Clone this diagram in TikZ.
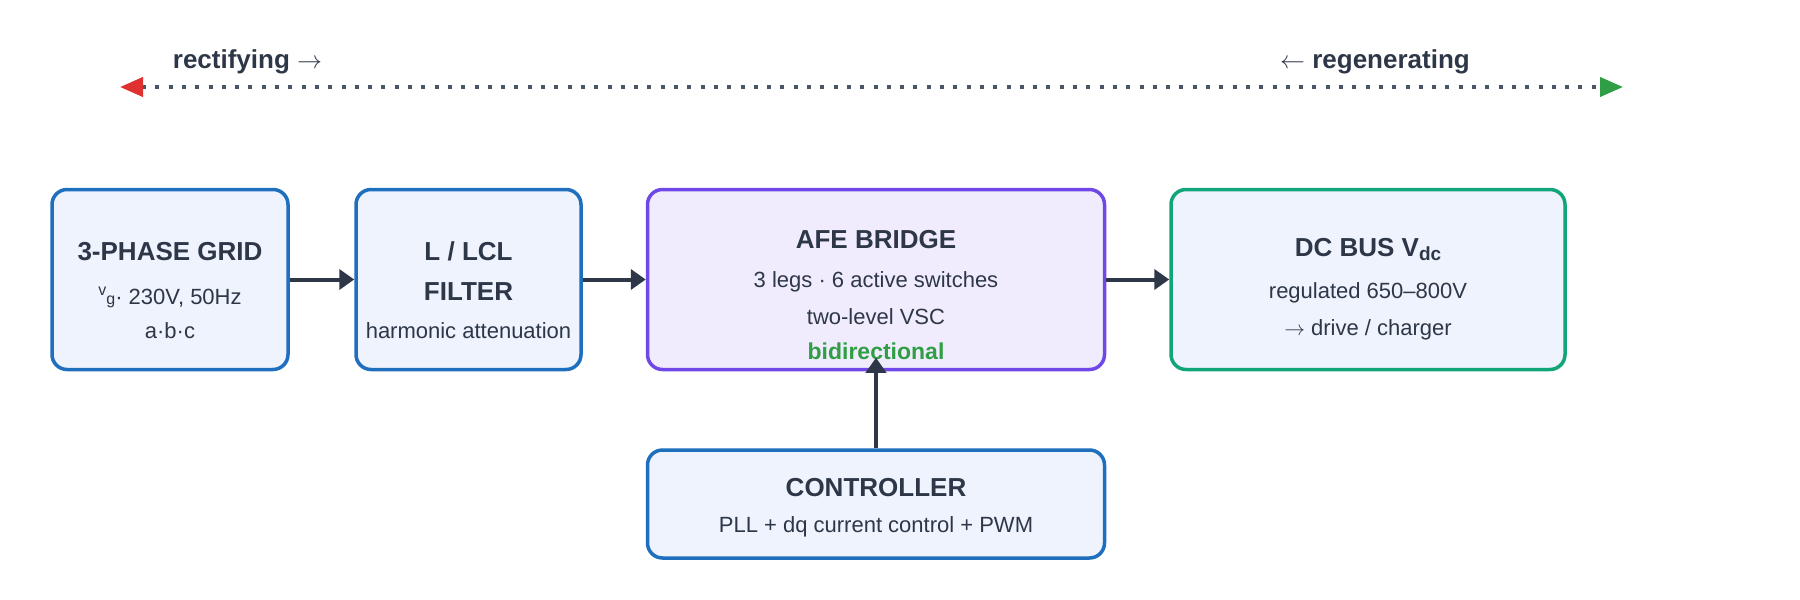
\documentclass[tikz,border=0pt]{standalone}
\usepackage{fontspec}
\setmainfont{Liberation Sans}
\usetikzlibrary{arrows.meta}
\definecolor{ink}{HTML}{2D3748}
\definecolor{bluebd}{HTML}{1F6FBF}
\definecolor{bluefill}{HTML}{EEF3FD}
\definecolor{violetbd}{HTML}{7048E8}
\definecolor{violetfill}{HTML}{F1ECFD}
\definecolor{tealbd}{HTML}{12A57A}
\definecolor{greentxt}{HTML}{2F9E44}
\definecolor{redtip}{HTML}{E03131}
\definecolor{greentip}{HTML}{2F9E44}
\definecolor{dotc}{HTML}{4A5568}
\begin{document}
\begin{tikzpicture}[x=1pt,y=-1pt,
  box/.style={draw=bluebd, fill=bluefill, line width=3.5pt, rounded corners=15pt, inner sep=0pt},
  ttl/.style={font=\fontsize{26}{30}\selectfont\bfseries, text=ink, anchor=base, inner sep=0pt},
  sub/.style={font=\fontsize{22}{26}\selectfont, text=ink, anchor=base, inner sep=0pt},
  conn/.style={draw=ink, line width=4pt, -{Triangle[length=15pt,width=20pt]}}
]
\useasboundingbox (0,0) rectangle (1800,600);

% direction indicator
\coordinate (lt) at (120,87);
\coordinate (rt) at (1623,87);
\draw[dotc, line width=4pt, dash pattern=on 4pt off 9.3pt,
  {Triangle[length=23pt,width=19pt,color=redtip]}-{Triangle[length=23pt,width=19pt,color=greentip]}] (lt) -- (rt);
\node[anchor=base west, inner sep=0pt, text=ink] (rect) at (172.7,68.3)
  {\fontsize{26}{30}\selectfont\bfseries rectifying \mdseries$\rightarrow$};
\node[anchor=base east, inner sep=0pt, text=ink] (regen) at (1470,68.3)
  {\fontsize{26}{30}\selectfont $\leftarrow$ \bfseries regenerating};

% boxes
\node[box, minimum width=236pt, minimum height=180pt] (grid) at (170,279.5) {};
\node[box, minimum width=225pt, minimum height=180pt] (filter) at (468.5,279.5) {};
\node[box, draw=violetbd, fill=violetfill, minimum width=457pt, minimum height=180pt] (afe) at (876,279.5) {};
\node[box, draw=tealbd, minimum width=394pt, minimum height=180pt] (dc) at (1368,279.5) {};
\node[box, minimum width=457pt, minimum height=108pt] (ctrl) at (876,504) {};

% texts
\node[ttl] (gridT) at (170,260) {3-PHASE GRID};
\node[sub] (gridA) at (170,304.5) {{\fontsize{16}{16}\selectfont\raisebox{9pt}{v}g}· 230V, 50Hz};
\node[sub] (gridB) at (170,338) {a·b·c};

\node[ttl] (filT1) at (468.5,260) {L / LCL};
\node[ttl] (filT2) at (468.5,300) {FILTER};
\node[sub] (filA) at (468.5,338) {harmonic attenuation};

\node[ttl] (afeT) at (876,248.3) {AFE BRIDGE};
\node[sub] (afeA) at (876,287.3) {3 legs · 6 active switches};
\node[sub] (afeB) at (876,324) {two-level VSC};
\node[anchor=base, inner sep=0pt, text=greentxt, font=\fontsize{23}{27}\selectfont\bfseries] (afeC) at (876,359) {bidirectional};

\node[ttl] (dcT) at (1368,256) {DC BUS V\raisebox{-4pt}{\fontsize{19}{19}\selectfont dc}};
\node[sub] (dcA) at (1368,298.3) {regulated 650–800V};
\node[sub] (dcB) at (1368,335.7) {$\rightarrow$ drive / charger};

\node[ttl] (ctrlT) at (876,496) {CONTROLLER};
\node[sub] (ctrlA) at (876,532.5) {PLL + dq current control + PWM};

% connectors
\draw[conn] (grid.east) -- (filter.west);
\draw[conn] (filter.east) -- (afe.west);
\draw[conn] (afe.east) -- (dc.west);
\draw[conn] (ctrl.north) -- ([yshift=13.5pt]afe.south);
\end{tikzpicture}
\end{document}
